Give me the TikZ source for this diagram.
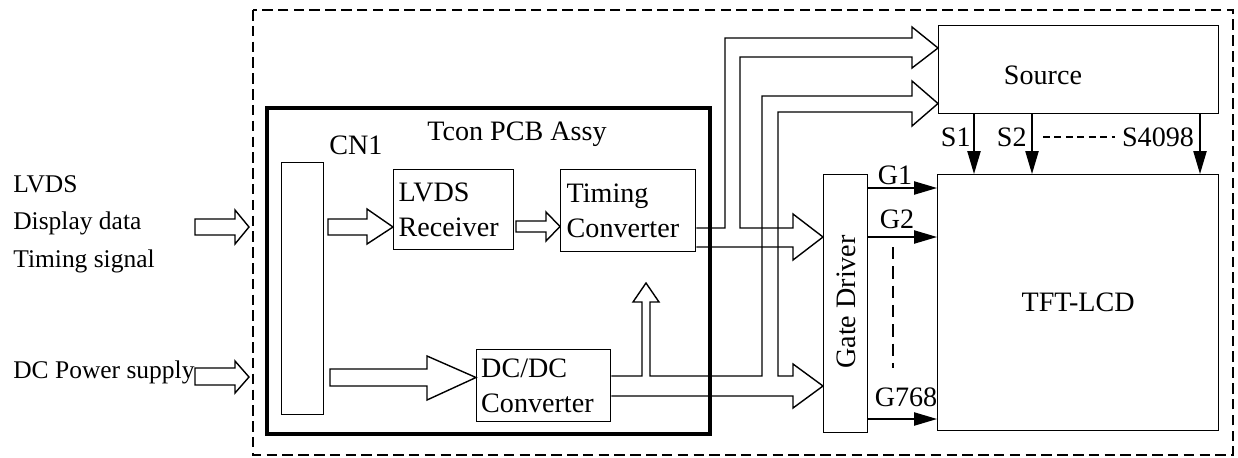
\documentclass[tikz,border=0pt]{standalone}
\usepackage{fontspec}
\setmainfont{Liberation Serif}
\usetikzlibrary{arrows.meta}
\tikzset{
box/.style={draw, line width=0.8pt, inner sep=0pt},
fat/.style={draw, line width=0.8pt, line join=miter},
sig/.style={line width=0.8pt, -{Triangle[length=13pt,width=7.5pt]}},
lbl/.style={font=\fontsize{16pt}{19.8pt}\selectfont, inner sep=0pt},
inlbl/.style={font=\fontsize{14.5pt}{21.3pt}\selectfont, inner sep=0pt, align=left}
}
\begin{document}
\begin{tikzpicture}[x=0.02cm, y=-0.02cm]
\useasboundingbox (0,0) rectangle (1238,457);
% module frame
\draw[line width=1.4pt, dash pattern=on 6pt off 3pt] (253,10) rectangle (1233,455);
\node[box, line width=2.3pt, minimum width=8.86cm, minimum height=6.52cm, anchor=north west] (tcon) at (265,106) {};
\node[lbl] (tconlbl) at (517,134) {Tcon PCB Assy};
\node[box, minimum width=0.84cm, minimum height=5.04cm, anchor=north west] (cn1) at (281,162) {};
\node[lbl] (cn1lbl) at (356,145) {CN1};
\node[box, lbl, minimum width=2.4cm, minimum height=1.6cm, text width=2.2cm, inner xsep=0.1cm, align=left, anchor=north west] (rx) at (393,169) {LVDS\\Receiver};
\node[box, lbl, minimum width=2.7cm, minimum height=1.64cm, text width=2.46cm, inner xsep=0.12cm, align=left, anchor=north west] (tc) at (560,169) {Timing\\Converter};
\node[box, lbl, minimum width=2.68cm, minimum height=1.44cm, text width=2.5cm, inner xsep=0.09cm, align=left, anchor=north west] (dc) at (476,349) {DC/DC\\Converter};
% panel side
\node[box, minimum width=5.6cm, minimum height=1.76cm, anchor=north west] (src) at (938,25) {};
\node[lbl] (srclbl) at (1043,75) {Source};
\node[box, lbl, minimum width=5.62cm, minimum height=5.12cm, anchor=north west] (lcd) at (937,174) {TFT-LCD};
\node[box, minimum width=0.88cm, minimum height=5.16cm, anchor=north west] (gate) at (823,174) {};
\node[lbl, rotate=90] (gatelbl) at (846,302) {Gate Driver};
% inputs
\node[inlbl, anchor=north west] (lvds) at (13,175) {LVDS\\Display data\\Timing signal};
\node[inlbl, anchor=base west] (dcin) at (13,378) {DC Power supply};
\draw[fat] (195,219) -- (235,219) -- (235,210) -- (249,227) -- (235,244) -- (235,235) -- (195,235) -- cycle;
\draw[fat] (195,368) -- (235,368) -- (235,361) -- (249,377) -- (235,393) -- (235,385) -- (195,385) -- cycle;
\draw[fat] (328,219) -- (367,219) -- (367,209) -- (rx.west |- 0,227) -- (367,244) -- (367,235) -- (328,235) -- cycle;
\draw[fat] (516,221) -- (546,221) -- (546,212) -- (tc.west |- 0,226.5) -- (546,241) -- (546,232) -- (516,232) -- cycle;
\draw[fat] (330,369) -- (427,369) -- (427,356) -- (dc.west |- 0,377.5) -- (427,400) -- (427,386) -- (330,386) -- cycle;
% bus from timing converter
\draw[fat] (tc.east |- 0,228) -- (725,228) -- (725,38) -- (912,38) -- (912,27) -- (src.west |- 0,48) -- (912,68) -- (912,57) -- (740,57) -- (740,228) -- (793,228) -- (793,214) -- (gate.west |- 0,237) -- (793,260) -- (793,247) -- (tc.east |- 0,247);
% bus from dc/dc
\draw[fat] (dc.east |- 0,376) -- (642,376) -- (642,302) -- (633,302) -- (646,283) -- (659,302) -- (650,302) -- (650,376) -- (762,376) -- (762,96) -- (912,96) -- (912,81) -- (src.west |- 0,103.5) -- (912,126) -- (912,112) -- (778,112) -- (778,376) -- (793,376) -- (793,364) -- (gate.west |- 0,386) -- (793,408) -- (793,396) -- (dc.east |- 0,396);
% gate lines
\draw[sig] (gate.east |- 0,188) -- (lcd.west |- 0,188);
\draw[sig] (gate.east |- 0,237) -- (lcd.west |- 0,237);
\draw[sig] (gate.east |- 0,419) -- (lcd.west |- 0,419);
\node[lbl] (g1) at (895,175) {G1};
\node[lbl] (g2) at (897,219) {G2};
\node[lbl] (g768) at (906,397) {G768};
\draw[line width=1.1pt, dash pattern=on 7pt off 4pt] (893,247) -- (893,368);
% source lines
\foreach \x in {974,1032,1200}
  \draw[sig] (src.south -| \x,0) -- (lcd.north -| \x,0);
\node[lbl, anchor=east] (s1) at (971,137) {S1};
\node[lbl, anchor=east] (s2) at (1027,137) {S2};
\node[lbl] (s4098) at (1158,137) {S4098};
\draw[line width=0.6pt, dash pattern=on 4pt off 2.5pt] (1043,137) -- (1115,137);
\end{tikzpicture}
\end{document}
